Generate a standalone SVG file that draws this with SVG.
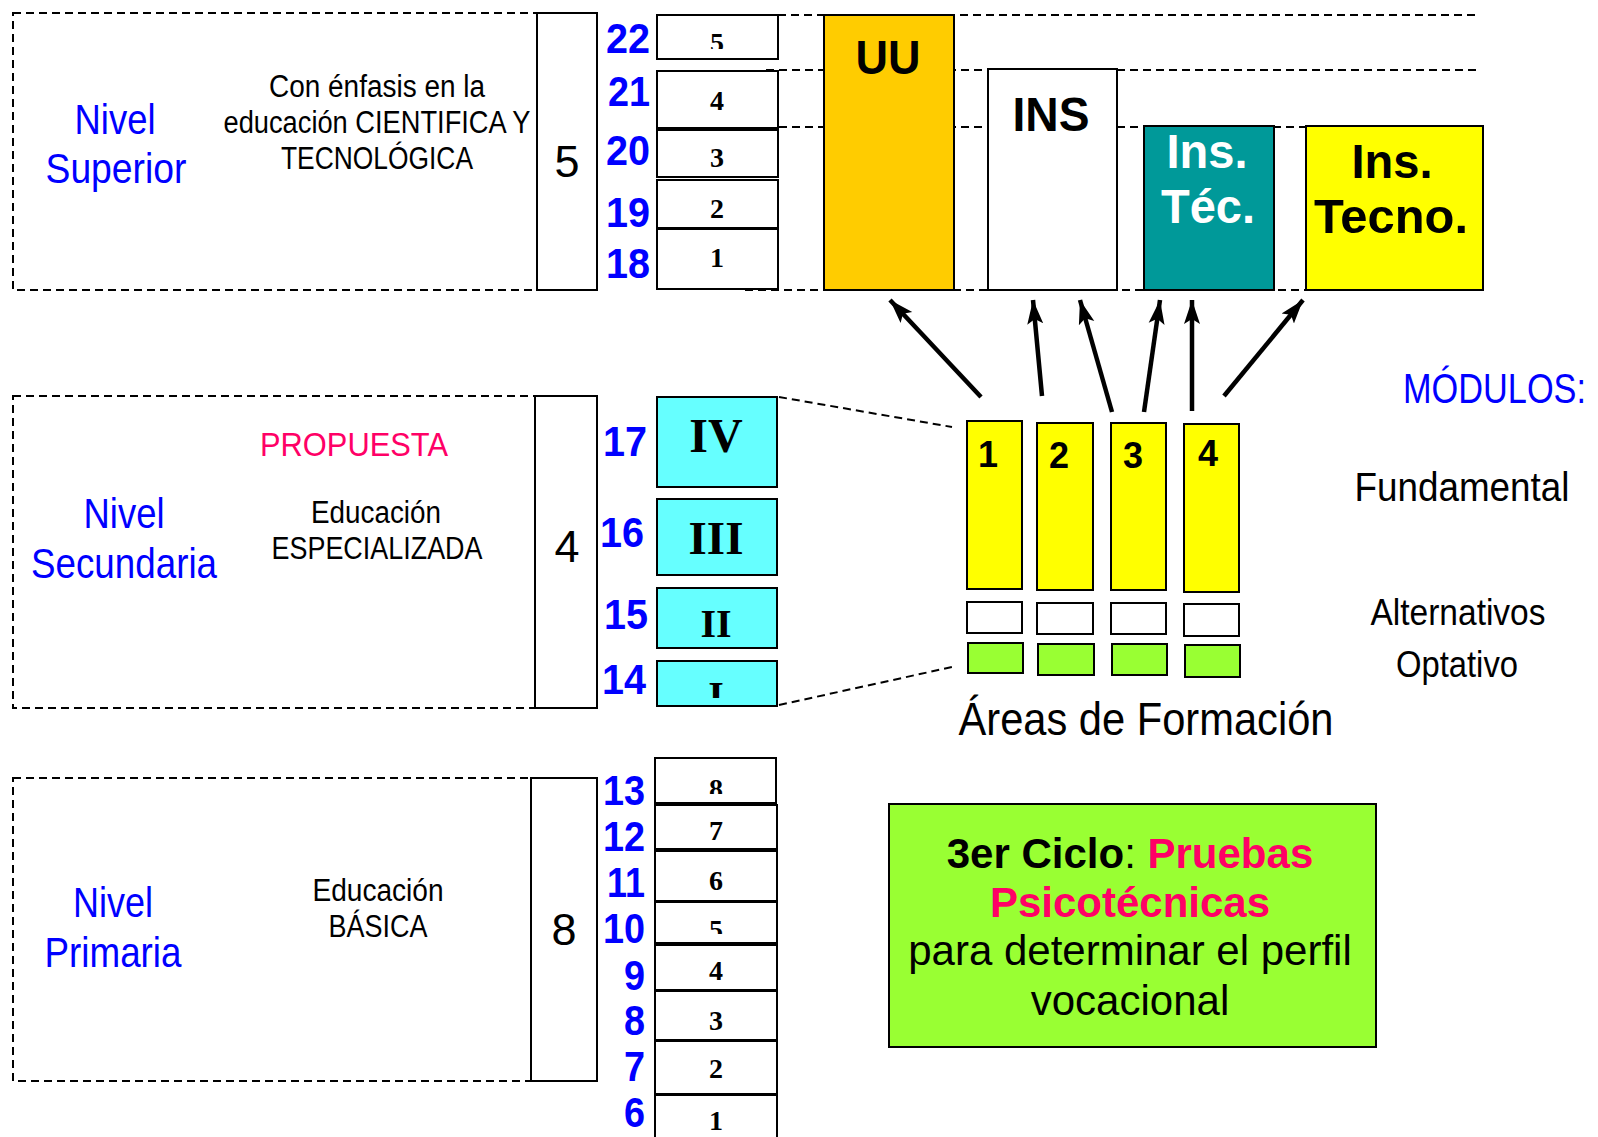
<svg xmlns="http://www.w3.org/2000/svg" width="1598" height="1137" viewBox="0 0 1598 1137">
<defs>
<style>
.n{font-family:'Liberation Sans Narrow','Liberation Sans',Arial,sans-serif}
.nb{font-family:'Liberation Sans Narrow','Liberation Sans',Arial,sans-serif;font-weight:bold}
.a{font-family:'Liberation Sans',Arial,sans-serif}
.t{font-family:'Liberation Serif','Times New Roman',serif;font-weight:bold;font-size:28px;text-anchor:middle}
.yr{font-family:'Liberation Sans Narrow','Liberation Sans',Arial,sans-serif;font-weight:bold;font-size:42px;fill:#0000FF;text-anchor:end}
.blue{fill:#0000FF}
.c{text-anchor:middle}
.dash{fill:none;stroke:#000;stroke-width:2;stroke-dasharray:8 5}
.box{fill:#fff;stroke:#000;stroke-width:2}
.cy{fill:#66FFFF;stroke:#000;stroke-width:2}
.ye{fill:#FFFF00;stroke:#000;stroke-width:2}
.gr{fill:#99FF33;stroke:#000;stroke-width:2}
.arr{stroke:#000;stroke-width:4.5;fill:none;marker-end:url(#ah)}
</style>
<marker id="ah" markerUnits="userSpaceOnUse" markerWidth="26" markerHeight="20" refX="24" refY="10" orient="auto">
<path d="M0,2 L24,10 L0,18 L5,10 Z" fill="#000"/>
</marker>
<clipPath id="c5"><rect x="657" y="15" width="121" height="34"/></clipPath>
<clipPath id="cI"><rect x="657" y="661" width="121" height="37"/></clipPath>
<clipPath id="c8"><rect x="655" y="758" width="122" height="36"/></clipPath>
<clipPath id="c5b"><rect x="655" y="902" width="122" height="32"/></clipPath>
</defs>
<rect width="1598" height="1137" fill="#fff"/>

<g id="connectors">
<line class="dash" x1="778" y1="15" x2="1476" y2="15"/>
<line class="dash" x1="766" y1="70" x2="1476" y2="70"/>
<line class="dash" x1="766" y1="127" x2="1306" y2="127"/>
<line class="dash" x1="745" y1="290" x2="1480" y2="290"/>
<line class="dash" x1="779" y1="397" x2="952" y2="427" stroke-width="1.5"/>
<line class="dash" x1="779" y1="705" x2="952" y2="667" stroke-width="1.5"/>
<line class="arr" x1="981" y1="397" x2="890" y2="300"/>
<line class="arr" x1="1042" y1="396" x2="1033" y2="300"/>
<line class="arr" x1="1112" y1="412" x2="1080" y2="300"/>
<line class="arr" x1="1144" y1="412" x2="1160" y2="300"/>
<line class="arr" x1="1192" y1="411" x2="1192" y2="300"/>
<line class="arr" x1="1224" y1="396" x2="1303" y2="300"/>
</g>

<g id="nivel-superior">
<rect class="dash" x="13" y="13" width="524" height="277"/>
<text class="n blue c" x="115" y="134" font-size="42" textLength="81" lengthAdjust="spacingAndGlyphs">Nivel</text>
<text class="n blue c" x="116" y="183" font-size="42" textLength="141" lengthAdjust="spacingAndGlyphs">Superior</text>
<text class="n c" x="377" y="97" font-size="31" textLength="216" lengthAdjust="spacingAndGlyphs">Con énfasis en la</text>
<text class="n c" x="377" y="133" font-size="31" textLength="307" lengthAdjust="spacingAndGlyphs">educación CIENTIFICA Y</text>
<text class="n c" x="377" y="169" font-size="31" textLength="192" lengthAdjust="spacingAndGlyphs">TECNOLÓGICA</text>
</g>
<g id="box-5">
<rect class="box" x="537" y="13" width="60" height="277"/>
<text class="n c" x="567" y="177" font-size="45">5</text>
</g>
<g id="years-superior">
<text class="yr" x="650" y="53" textLength="44" lengthAdjust="spacingAndGlyphs">22</text>
<text class="yr" x="650" y="106" textLength="42" lengthAdjust="spacingAndGlyphs">21</text>
<text class="yr" x="650" y="165" textLength="44" lengthAdjust="spacingAndGlyphs">20</text>
<text class="yr" x="650" y="227" textLength="44" lengthAdjust="spacingAndGlyphs">19</text>
<text class="yr" x="650" y="278" textLength="44" lengthAdjust="spacingAndGlyphs">18</text>
<rect class="box" x="657" y="15" width="121" height="44"/>
<rect class="box" x="657" y="71" width="121" height="57"/>
<rect class="box" x="657" y="130" width="121" height="47"/>
<rect class="box" x="657" y="180" width="121" height="48"/>
<rect class="box" x="657" y="229" width="121" height="60"/>
<text class="t" x="717" y="52" clip-path="url(#c5)">5</text>
<text class="t" x="717" y="110">4</text>
<text class="t" x="717" y="167">3</text>
<text class="t" x="717" y="218">2</text>
<text class="t" x="717" y="267">1</text>
</g>
<g id="uu">
<rect x="824" y="15" width="130" height="275" fill="#FFCC00" stroke="#000" stroke-width="2"/>
<text class="nb c" x="888" y="74" font-size="48" textLength="65" lengthAdjust="spacingAndGlyphs">UU</text>
</g>
<g id="ins">
<rect class="box" x="988" y="69" width="129" height="221"/>
<text class="nb c" x="1051" y="131" font-size="48" textLength="77" lengthAdjust="spacingAndGlyphs">INS</text>
</g>
<g id="ins-tec">
<rect x="1144" y="126" width="130" height="164" fill="#009999" stroke="#000" stroke-width="2"/>
<text class="nb c" x="1207" y="168" font-size="48" fill="#fff" textLength="81" lengthAdjust="spacingAndGlyphs">Ins.</text>
<text class="nb c" x="1208" y="223" font-size="48" fill="#fff" textLength="94" lengthAdjust="spacingAndGlyphs">Téc.</text>
</g>
<g id="ins-tecno">
<rect class="ye" x="1306" y="126" width="177" height="164"/>
<text class="nb c" x="1392" y="178" font-size="48" textLength="81" lengthAdjust="spacingAndGlyphs">Ins.</text>
<text class="nb c" x="1391" y="233" font-size="48" textLength="154" lengthAdjust="spacingAndGlyphs">Tecno.</text>
</g>

<g id="nivel-secundaria">
<rect class="dash" x="13" y="396" width="522" height="312"/>
<text class="n c" x="354" y="456" font-size="33" fill="#FF0066" textLength="188" lengthAdjust="spacingAndGlyphs">PROPUESTA</text>
<text class="n blue c" x="124" y="528" font-size="42" textLength="81" lengthAdjust="spacingAndGlyphs">Nivel</text>
<text class="n blue c" x="124" y="578" font-size="42" textLength="186" lengthAdjust="spacingAndGlyphs">Secundaria</text>
<text class="n c" x="376" y="523" font-size="31" textLength="130" lengthAdjust="spacingAndGlyphs">Educación</text>
<text class="n c" x="377" y="559" font-size="31" textLength="211" lengthAdjust="spacingAndGlyphs">ESPECIALIZADA</text>
</g>
<g id="box-4">
<rect class="box" x="535" y="396" width="62" height="312"/>
<text class="n c" x="567" y="562" font-size="45">4</text>
</g>
<g id="years-secundaria">
<text class="yr" x="647" y="456" textLength="44" lengthAdjust="spacingAndGlyphs">17</text>
<text class="yr" x="644" y="547" textLength="44" lengthAdjust="spacingAndGlyphs">16</text>
<text class="yr" x="648" y="629" textLength="44" lengthAdjust="spacingAndGlyphs">15</text>
<text class="yr" x="646" y="694" textLength="44" lengthAdjust="spacingAndGlyphs">14</text>
<rect class="cy" x="657" y="397" width="120" height="90"/>
<rect class="cy" x="657" y="499" width="120" height="76"/>
<rect class="cy" x="657" y="588" width="120" height="60"/>
<rect class="cy" x="657" y="661" width="120" height="45"/>
<text class="t" x="716" y="452" style="font-size:48px">IV</text>
<text class="t" x="716" y="554" style="font-size:47px">III</text>
<text class="t" x="716" y="637" style="font-size:40px">II</text>
<text class="t" x="716" y="709" style="font-size:40px" clip-path="url(#cI)">I</text>
</g>

<g id="areas">
<rect class="ye" x="967" y="421" width="55" height="168"/>
<rect class="ye" x="1037" y="423" width="56" height="167"/>
<rect class="ye" x="1111" y="423" width="55" height="167"/>
<rect class="ye" x="1184" y="424" width="55" height="168"/>
<text class="nb c" x="988" y="467" font-size="36">1</text>
<text class="nb c" x="1059" y="468" font-size="36">2</text>
<text class="nb c" x="1133" y="468" font-size="36">3</text>
<text class="nb c" x="1208" y="466" font-size="36">4</text>
<rect class="box" x="967" y="602" width="55" height="31"/>
<rect class="box" x="1037" y="603" width="56" height="31"/>
<rect class="box" x="1111" y="603" width="55" height="31"/>
<rect class="box" x="1184" y="604" width="55" height="32"/>
<rect class="gr" x="968" y="643" width="55" height="30"/>
<rect class="gr" x="1038" y="644" width="56" height="31"/>
<rect class="gr" x="1112" y="644" width="55" height="31"/>
<rect class="gr" x="1185" y="645" width="55" height="32"/>
<text class="n c" x="1146" y="735" font-size="46" textLength="375" lengthAdjust="spacingAndGlyphs">Áreas de Formación</text>
</g>
<g id="modulos">
<text class="n blue" x="1586" y="403" font-size="42" text-anchor="end" textLength="183" lengthAdjust="spacingAndGlyphs">MÓDULOS:</text>
<text class="n c" x="1462" y="501" font-size="41" textLength="215" lengthAdjust="spacingAndGlyphs">Fundamental</text>
<text class="n c" x="1458" y="625" font-size="37" textLength="175" lengthAdjust="spacingAndGlyphs">Alternativos</text>
<text class="n c" x="1457" y="677" font-size="37" textLength="122" lengthAdjust="spacingAndGlyphs">Optativo</text>
</g>

<g id="nivel-primaria">
<rect class="dash" x="13" y="778" width="518" height="303"/>
<text class="n blue c" x="113" y="917" font-size="42" textLength="80" lengthAdjust="spacingAndGlyphs">Nivel</text>
<text class="n blue c" x="113" y="967" font-size="42" textLength="137" lengthAdjust="spacingAndGlyphs">Primaria</text>
<text class="n c" x="378" y="901" font-size="31" textLength="131" lengthAdjust="spacingAndGlyphs">Educación</text>
<text class="n c" x="378" y="937" font-size="31" textLength="99" lengthAdjust="spacingAndGlyphs">BÁSICA</text>
</g>
<g id="box-8">
<rect class="box" x="531" y="778" width="66" height="303"/>
<text class="n c" x="564" y="945" font-size="45">8</text>
</g>
<g id="years-primaria">
<text class="yr" x="645" y="805" textLength="42" lengthAdjust="spacingAndGlyphs">13</text>
<text class="yr" x="645" y="851" textLength="42" lengthAdjust="spacingAndGlyphs">12</text>
<text class="yr" x="645" y="897" textLength="38" lengthAdjust="spacingAndGlyphs">11</text>
<text class="yr" x="645" y="943" textLength="42" lengthAdjust="spacingAndGlyphs">10</text>
<text class="yr" x="645" y="990" textLength="21" lengthAdjust="spacingAndGlyphs">9</text>
<text class="yr" x="645" y="1035" textLength="21" lengthAdjust="spacingAndGlyphs">8</text>
<text class="yr" x="645" y="1081" textLength="21" lengthAdjust="spacingAndGlyphs">7</text>
<text class="yr" x="645" y="1127" textLength="21" lengthAdjust="spacingAndGlyphs">6</text>
<rect class="box" x="655" y="758" width="121" height="45"/>
<rect class="box" x="655" y="805" width="122" height="44"/>
<rect class="box" x="655" y="851" width="122" height="50"/>
<rect class="box" x="655" y="902" width="122" height="41"/>
<rect class="box" x="655" y="945" width="122" height="45"/>
<rect class="box" x="655" y="991" width="122" height="49"/>
<rect class="box" x="655" y="1041" width="122" height="53"/>
<rect class="box" x="655" y="1095" width="122" height="50"/>
<text class="t" x="716" y="798" clip-path="url(#c8)">8</text>
<text class="t" x="716" y="840">7</text>
<text class="t" x="716" y="890">6</text>
<text class="t" x="716" y="939" clip-path="url(#c5b)">5</text>
<text class="t" x="716" y="980">4</text>
<text class="t" x="716" y="1030">3</text>
<text class="t" x="716" y="1078">2</text>
<text class="t" x="716" y="1130">1</text>
</g>

<g id="ciclo">
<rect class="gr" x="889" y="804" width="487" height="243"/>
<text class="a c" x="1130" y="868" font-size="42"><tspan font-weight="bold">3er Ciclo</tspan>: <tspan font-weight="bold" fill="#FF0066">Pruebas</tspan></text>
<text class="a c" x="1130" y="917" font-size="42" font-weight="bold" fill="#FF0066">Psicotécnicas</text>
<text class="a c" x="1130" y="965" font-size="42">para determinar el perfil</text>
<text class="a c" x="1130" y="1015" font-size="42">vocacional</text>
</g>
</svg>
